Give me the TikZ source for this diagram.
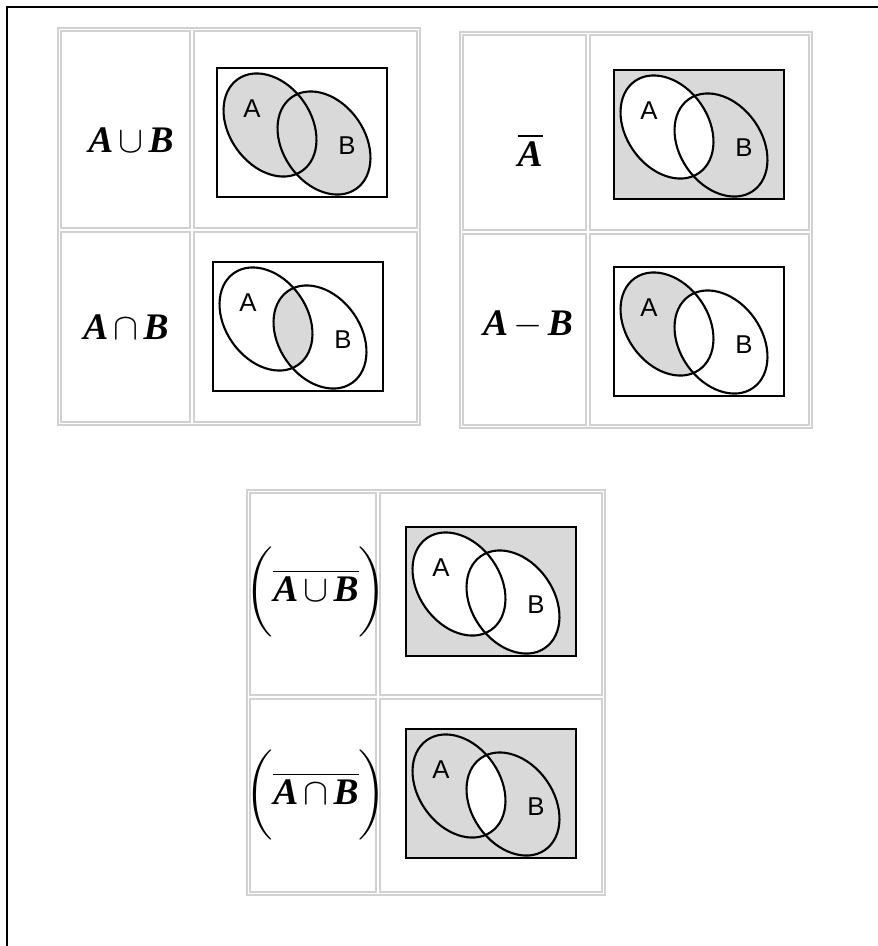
\documentclass[tikz,border=0pt]{standalone}
\usepackage{mathptmx}
\usepackage[no-math]{fontspec}
\newfontfamily\setfont{Liberation Sans}
\newfontfamily\opfont{Liberation Serif}
\usepackage{tikz}
\usepackage{xcolor}

% the two sets, relative to the top left corner of a Venn box
\newcommand{\vennA}{(53,-57) ellipse [x radius=56, y radius=41, rotate=-55]}
\newcommand{\vennB}{(107,-75) ellipse [x radius=56, y radius=41, rotate=-55]}
\newcommand{\vennU}{(0,0) rectangle (170,-129)}
\newcommand{\opset}[1]{\mbox{\opfont\bfseries\itshape #1}}

% #1 shift, #2 shading, #3 node prefix
\newcommand{\vennpic}[3]{%
  \begin{scope}[shift={#1}]
    #2
    \draw[vset] \vennA;
    \draw[vset] \vennB;
    \draw[vbox] \vennU;
    \node[setname] (#3A) at (35,-41) {A};
    \node[setname] (#3B) at (130,-78) {B};
  \end{scope}}

% #1 left, #2 top, #3 column, #4 row, #5 right, #6 bottom
\newcommand{\celltable}[6]{%
  \draw[cell] (#1,-#2) rectangle (#5,-#6);
  \draw[cell] (#1+3,-#2-3) rectangle (#3-2,-#4+2);
  \draw[cell] (#3+2,-#2-3) rectangle (#5-3,-#4+2);
  \draw[cell] (#1+3,-#4-2) rectangle (#3-2,-#6+3);
  \draw[cell] (#3+2,-#4-2) rectangle (#5-3,-#6+3);}

\begin{document}
\begin{tikzpicture}[x=0.03cm,y=0.03cm,
    cell/.style={draw=black!18, line width=1.4pt},
    vbox/.style={draw=black, line width=1.5pt},
    vset/.style={draw=black, line width=1.8pt},
    shade/.style={fill=black!15},
    setname/.style={font=\setfont\fontsize{22}{24}\selectfont, inner sep=0pt},
    opname/.style={font=\fontsize{32}{35}\selectfont, inner sep=0pt}]
  \useasboundingbox (0,0) rectangle (878,-946);
  \draw[line width=1.8pt] (7,-946) -- (7,-7) -- (878,-7);

  % tables
  \celltable{58}{28}{192}{230}{420}{425}
  \celltable{460}{32}{588}{232}{812}{428}
  \celltable{247}{490}{378}{697}{605}{895}

  % operations
  \node[opname] (opUnion) at (131,-140) {$\opset{A}\cup\opset{B}$};
  \node[opname] (opInter) at (126,-327) {$\opset{A}\cap\opset{B}$};
  \node[opname] (opCompl) at (530,-150) {$\overline{\opset{A}}$};
  \node[opname] (opDiff) at (528,-325) {$\opset{A}-\opset{B}$};
  \node[opname] (opNotUnion) at (316,-592) {$\biggl(\overline{\opset{A}\cup\opset{B}}\biggr)$};
  \node[opname] (opNotInter) at (316,-795) {$\biggl(\overline{\opset{A}\cap\opset{B}}\biggr)$};

  % diagrams
  \vennpic{(217,-68)}{\fill[shade] \vennA; \fill[shade] \vennB;}{uni}
  \vennpic{(213,-262)}{\begin{scope}\clip \vennA; \fill[shade] \vennB;\end{scope}}{int}
  \vennpic{(614,-70)}{\fill[shade] \vennU; \fill[white] \vennA;}{com}
  \vennpic{(614,-267)}{\fill[shade] \vennA; \fill[white] \vennB;}{dif}
  \vennpic{(406,-527)}{\fill[shade] \vennU; \fill[white] \vennA; \fill[white] \vennB;}{nun}
  \vennpic{(406,-729)}{\fill[shade] \vennU;
    \begin{scope}\clip \vennA; \fill[white] \vennB;\end{scope}}{nin}
\end{tikzpicture}
\end{document}
